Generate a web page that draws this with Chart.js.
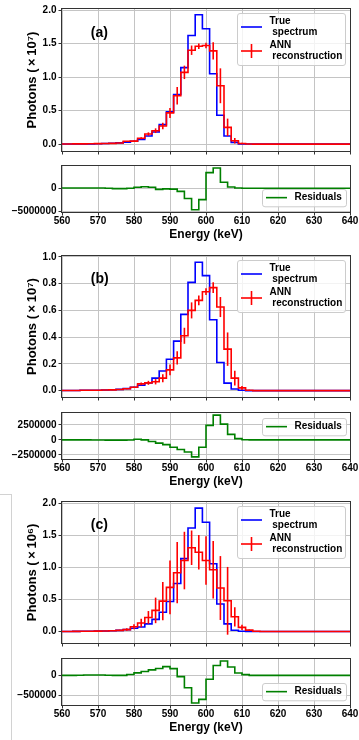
<!DOCTYPE html>
<html>
<head>
<meta charset="utf-8">
<title>Spectrum reconstruction</title>
<script src="https://cdn.jsdelivr.net/npm/chart.js@4.4.1/dist/chart.umd.min.js"></script>
<style>
  html, body { margin: 0; padding: 0; background: #fff; }
  #fig { position: relative; width: 359px; height: 740px; overflow: hidden; }
  #fig canvas { position: absolute; left: 0; }
  .bracket {
    position: absolute; left: -1px; top: 494px; width: 12px; height: 260px;
    border-top: 1px solid #d2d2d2; border-right: 1px solid #d2d2d2;
  }
</style>
</head>
<body>
<div id="fig">
  <div class="bracket"></div>
  <canvas id="mainA" width="359" height="159" style="top:0px"></canvas>
  <canvas id="residA" width="359" height="84" style="top:158px"></canvas>
  <canvas id="mainB" width="359" height="158" style="top:247px"></canvas>
  <canvas id="residB" width="359" height="84" style="top:405px"></canvas>
  <canvas id="mainC" width="359" height="158" style="top:493px"></canvas>
  <canvas id="residC" width="359" height="84" style="top:651px"></canvas>
</div>
<script>
// ── DATA ──────────────────────────────────────────
const energy = [560, 562, 564, 566, 568, 570, 572, 574, 576, 578, 580, 582, 584, 586, 588, 590,
  592, 594, 596, 598, 600, 602, 604, 606, 608, 610, 612, 614, 616, 618, 620, 622, 624, 626,
  628, 630, 632, 634, 636, 638, 640];
const energyTicks = [560, 570, 580, 590, 600, 610, 620, 630, 640];

// (a) photons x1e7
const trueA = [0.001, 0.001, 0.002, 0.003, 0.004, 0.006, 0.008, 0.012, 0.018, 0.03, 0.043, 0.068,
  0.12, 0.18, 0.29, 0.48, 0.74, 1.14, 1.62, 1.93, 1.72, 1.05, 0.43, 0.12, 0.025, 0.004, 0.001,
  0, 0, 0, 0, 0, 0, 0, 0, 0, 0, 0, 0, 0, 0];
const annA = [0.002, 0.002, 0.003, 0.004, 0.005, 0.007, 0.009, 0.011, 0.017, 0.042, 0.044, 0.087,
  0.15, 0.2, 0.27, 0.465, 0.72, 1.07, 1.4, 1.46, 1.47, 1.39, 0.87, 0.25, 0.05, 0.009, 0.002,
  0, 0, 0, 0, 0, 0, 0, 0, 0, 0, 0, 0, 0, 0];
const errA = [0.002, 0.002, 0.002, 0.002, 0.002, 0.002, 0.002, 0.002, 0.004, 0.006, 0.008, 0.015,
  0.025, 0.035, 0.05, 0.075, 0.13, 0.1, 0.07, 0.04, 0.04, 0.13, 0.26, 0.13, 0.04, 0.01, 0.003,
  0, 0, 0, 0, 0, 0, 0, 0, 0, 0, 0, 0, 0, 0];
const residA = [0, 50000, 50000, 50000, 50000, 50000, 50000, 0, -100000, -100000, 0, 200000,
  300000, 200000, -250000, -150000, -200000, -700000, -2250000, -4700000, -2500000, 3400000,
  4400000, 1300000, 250000, 50000, 0, 0, 0, 0, 0, 0, 0, 0, 0, 0, 0, 0, 0, 0, 0];

// (b) photons x1e7
const trueB = [0.001, 0.001, 0.001, 0.002, 0.002, 0.003, 0.004, 0.006, 0.009, 0.015, 0.025, 0.04,
  0.058, 0.093, 0.147, 0.235, 0.37, 0.57, 0.81, 0.96, 0.86, 0.53, 0.21, 0.056, 0.012, 0.002, 0,
  0, 0, 0, 0, 0, 0, 0, 0, 0, 0, 0, 0, 0, 0];
const annB = [0.001, 0.001, 0.001, 0.002, 0.002, 0.003, 0.004, 0.005, 0.008, 0.014, 0.025, 0.05,
  0.058, 0.066, 0.093, 0.155, 0.245, 0.41, 0.6, 0.675, 0.74, 0.77, 0.625, 0.31, 0.093, 0.02, 0.003,
  0, 0, 0, 0, 0, 0, 0, 0, 0, 0, 0, 0, 0, 0];
const errB = [0.001, 0.001, 0.001, 0.001, 0.001, 0.001, 0.001, 0.001, 0.002, 0.004, 0.006, 0.01,
  0.015, 0.02, 0.03, 0.04, 0.05, 0.06, 0.06, 0.037, 0.025, 0.04, 0.075, 0.125, 0.055, 0.015, 0.003,
  0, 0, 0, 0, 0, 0, 0, 0, 0, 0, 0, 0, 0, 0];
const residB = [0, 0, 0, 0, 0, -20000, -30000, -40000, -50000, -50000, -20000, 100000, 0,
  -270000, -540000, -800000, -1240000, -1600000, -2040000, -2850000, -1240000, 2420000, 4140000,
  2630000, 910000, 200000, 30000, 0, 0, 0, 0, 0, 0, 0, 0, 0, 0, 0, 0, 0, 0];

// (c) photons x1e6
const trueC = [0.001, 0.001, 0.002, 0.003, 0.004, 0.006, 0.008, 0.012, 0.018, 0.03, 0.05, 0.07,
  0.12, 0.19, 0.3, 0.47, 0.75, 1.14, 1.62, 1.93, 1.71, 1.06, 0.43, 0.12, 0.02, 0.004, 0.001,
  0, 0, 0, 0, 0, 0, 0, 0, 0, 0, 0, 0, 0, 0];
const annC = [0.001, 0.001, 0.002, 0.003, 0.004, 0.006, 0.008, 0.012, 0.018, 0.03, 0.074, 0.133,
  0.22, 0.33, 0.475, 0.69, 0.92, 1.11, 1.31, 1.24, 1.11, 0.965, 0.68, 0.48, 0.23, 0.064, 0.021,
  0.003, 0, 0, 0, 0, 0, 0, 0, 0, 0, 0, 0, 0, 0];
const errC = [0.002, 0.002, 0.002, 0.002, 0.002, 0.002, 0.002, 0.003, 0.01, 0.02, 0.04, 0.065,
  0.1, 0.2, 0.3, 0.42, 0.48, 0.45, 0.27, 0.27, 0.38, 0.45, 0.5, 0.53, 0.15, 0.04, 0.01,
  0.003, 0, 0, 0, 0, 0, 0, 0, 0, 0, 0, 0, 0, 0];
const residC = [0, 0, 0, 5000, 10000, 10000, 10000, 5000, 0, 0, 24000, 63000, 100000, 140000,
  175000, 220000, 170000, -30000, -310000, -690000, -600000, -95000, 250000, 360000, 210000,
  60000, 20000, 0, 0, 0, 0, 0, 0, 0, 0, 0, 0, 0, 0, 0, 0];

const photonTicksA = [0, 0.5, 1, 1.5, 2];
const photonTicksB = [0, 0.2, 0.4, 0.6, 0.8, 1];
const photonTicksC = [0, 0.5, 1, 1.5, 2];
const residTicksA = [-5000000, 0];
const residTicksB = [-2500000, 0, 2500000];
const residTicksC = [-500000, 0];

// ── STYLE ─────────────────────────────────────────
const FONT = "'Liberation Sans', Arial, sans-serif";
const BLUE = '#0000ff', RED = '#ff0000', GREEN = '#008000';
const GRID = '#c4c4c4', AXIS = '#333333';
const LEFT = 62, RIGHT_PAD = 9;

Chart.defaults.font.family = FONT;
const bold = size => ({ family: FONT, size, weight: 'bold', lineHeight: 1.2 });
const pts = ys => energy.map((e, i) => ({ x: e, y: ys[i] }));
const fmtPhotons = v => v.toFixed(1);
const fmtResid = v => (v < 0 ? '\u2212' : '') + Math.abs(v);

// ── PLUGINS ───────────────────────────────────────
const errorBars = {
  id: 'errorBars',
  afterDatasetsDraw(chart) {
    const { ctx, chartArea: a, scales: { x, y } } = chart;
    ctx.save();
    ctx.beginPath();
    ctx.rect(a.left, a.top, a.width, a.height);
    ctx.clip();
    chart.data.datasets.forEach(ds => {
      if (!ds.errors) return;
      ctx.strokeStyle = ds.borderColor;
      ctx.lineWidth = ds.borderWidth;
      ds.data.forEach((p, i) => {
        const e = ds.errors[i];
        if (!e) return;
        const px = x.getPixelForValue(p.x);
        ctx.beginPath();
        ctx.moveTo(px, y.getPixelForValue(p.y - e));
        ctx.lineTo(px, y.getPixelForValue(p.y + e));
        ctx.stroke();
      });
    });
    ctx.restore();
  }
};

// full box round the plot area
const axesFrame = {
  id: 'axesFrame',
  afterDatasetsDraw(chart) {
    const { ctx, chartArea: a } = chart;
    ctx.save();
    ctx.strokeStyle = AXIS;
    ctx.lineWidth = 1;
    ctx.strokeRect(Math.round(a.left) - 0.5, Math.round(a.top) - 0.5,
      Math.round(a.width) + 1, Math.round(a.height) + 1);
    ctx.restore();
  }
};

const boxLegend = {
  id: 'boxLegend',
  afterDraw(chart, args, opts) {
    if (!opts.width) return;
    const { ctx, chartArea: a } = chart;
    const items = chart.data.datasets.map(ds => ({ ds, lines: ds.label.split('\n') }));
    const lineH = 10.7, pad = 2;
    const rowH = items.map(it => it.lines.length * lineH + 2.6);
    const h = 2 * pad + rowH.reduce((s, v) => s + v, 0);
    const left = Math.round(a.right - opts.inset - opts.width);
    const top = Math.round(opts.corner === 'ne' ? a.top + opts.offset : a.bottom - opts.offset - h);
    ctx.save();
    ctx.fillStyle = 'rgba(255,255,255,0.8)';
    ctx.strokeStyle = '#cccccc';
    ctx.lineWidth = 1;
    ctx.beginPath();
    ctx.roundRect(left + 0.5, top + 0.5, opts.width, h, 2.5);
    ctx.fill();
    ctx.stroke();
    let y = top + pad;
    items.forEach((it, k) => {
      const cy = y + rowH[k] / 2;
      ctx.strokeStyle = it.ds.borderColor;
      ctx.lineWidth = it.ds.borderWidth;
      ctx.beginPath();
      ctx.moveTo(left + 4, cy);
      ctx.lineTo(left + 25, cy);
      ctx.stroke();
      if (it.ds.errors) {
        ctx.beginPath();
        ctx.moveTo(left + 14.5, cy - 7);
        ctx.lineTo(left + 14.5, cy + 7);
        ctx.stroke();
      }
      ctx.fillStyle = '#000';
      ctx.font = `bold 10px ${FONT}`;
      ctx.textBaseline = 'middle';
      it.lines.forEach((t, j) =>
        ctx.fillText(t, left + 32.5, cy + (j - (it.lines.length - 1) / 2) * lineH));
      y += rowH[k];
    });
    ctx.restore();
  }
};

const panelTag = {
  id: 'panelTag',
  afterDraw(chart, args, opts) {
    if (!opts.text) return;
    const { ctx, chartArea: a } = chart;
    ctx.save();
    ctx.font = `bold 14px ${FONT}`;
    ctx.fillStyle = '#000';
    ctx.textBaseline = 'middle';
    ctx.fillText(opts.text, a.left + 0.1 * a.width, a.top + 0.167 * a.height);
    ctx.restore();
  }
};

// ── SCALES ────────────────────────────────────────
function xScale(withLabels) {
  return {
    type: 'linear', min: 560, max: 640,
    afterBuildTicks: s => { s.ticks = energyTicks.map(v => ({ value: v })); },
    afterFit: s => { s.height = withLabels ? 30 : 6; },
    grid: { color: GRID, lineWidth: 1, tickColor: AXIS, tickLength: 3.5, tickWidth: 1 },
    border: { display: false },
    ticks: { display: withLabels, padding: 0, color: '#000', font: bold(10),
      maxRotation: 0, autoSkip: false },
    title: { display: withLabels, text: 'Energy (keV)', color: '#000', font: bold(12), padding: 0 }
  };
}

function yScale(min, max, ticks, fmt, title) {
  return {
    type: 'linear', min, max,
    afterBuildTicks: s => { s.ticks = ticks.map(v => ({ value: v })); },
    afterFit: s => { s.width = LEFT; },
    grid: { color: GRID, lineWidth: 1, tickColor: AXIS, tickLength: 3.5, tickWidth: 1 },
    border: { display: false },
    ticks: { padding: 2, color: '#000', font: bold(10), autoSkip: false, callback: fmt },
    title: title
      ? { display: true, text: title, color: '#000', font: bold(13), padding: { top: 25, bottom: 0 } }
      : { display: false }
  };
}

function lineSet(label, ys, color, order, stepped, errors) {
  const ds = {
    label, data: pts(ys), borderColor: color, borderWidth: 1.6, order, stepped,
    pointRadius: 0, fill: false, tension: 0
  };
  if (errors) ds.errors = errors;
  return ds;
}

// ── CHARTS ────────────────────────────────────────
function buildMain(id, padTop, tag, t, r, e, range, ticks, title) {
  new Chart(document.getElementById(id), {
    type: 'line',
    data: { datasets: [
      lineSet('True\n spectrum', t, BLUE, 2, 'middle'),
      lineSet('ANN\n reconstruction', r, RED, 1, 'middle', e)
    ] },
    options: {
      responsive: false, animation: false, events: [],
      layout: { padding: { top: padTop, right: RIGHT_PAD, bottom: 0, left: 0 } },
      scales: { x: xScale(false), y: yScale(range[0], range[1], ticks, fmtPhotons, title) },
      plugins: {
        legend: { display: false }, tooltip: { enabled: false },
        boxLegend: { width: 108, inset: 5, offset: 4, corner: 'ne' },
        panelTag: { text: tag }
      }
    },
    plugins: [errorBars, axesFrame, boxLegend, panelTag]
  });
}

function buildResid(id, padTop, res, range, ticks, corner, offset) {
  new Chart(document.getElementById(id), {
    type: 'line',
    data: { datasets: [lineSet('Residuals', res, GREEN, 1, 'after')] },
    options: {
      responsive: false, animation: false, events: [],
      layout: { padding: { top: padTop, right: RIGHT_PAD, bottom: 0, left: 0 } },
      scales: { x: xScale(true), y: yScale(range[0], range[1], ticks, fmtResid) },
      plugins: {
        legend: { display: false }, tooltip: { enabled: false },
        boxLegend: { width: 84, inset: 4, offset, corner }
      }
    },
    plugins: [axesFrame, boxLegend]
  });
}

const TITLE7 = 'Photons (\u2009\u00d7\u200910\u2077)';
const TITLE6 = 'Photons (\u2009\u00d7\u200910\u2076)';

buildMain('mainA', 9, '(a)', trueA, annA, errA, [-0.103, 2.015], photonTicksA, TITLE7);
buildResid('residA', 6, residA, [-5190000, 4840000], residTicksA, 'se', 6);
buildMain('mainB', 9, '(b)', trueB, annB, errB, [-0.048, 1.007], photonTicksB, TITLE7);
buildResid('residB', 6, residB, [-3200000, 4490000], residTicksB, 'ne', 5);
buildMain('mainC', 9, '(c)', trueC, annC, errC, [-0.18, 2.026], photonTicksC, TITLE6);
buildResid('residC', 6, residC, [-742000, 412000], residTicksC, 'se', 5);
</script>
</body>
</html>
